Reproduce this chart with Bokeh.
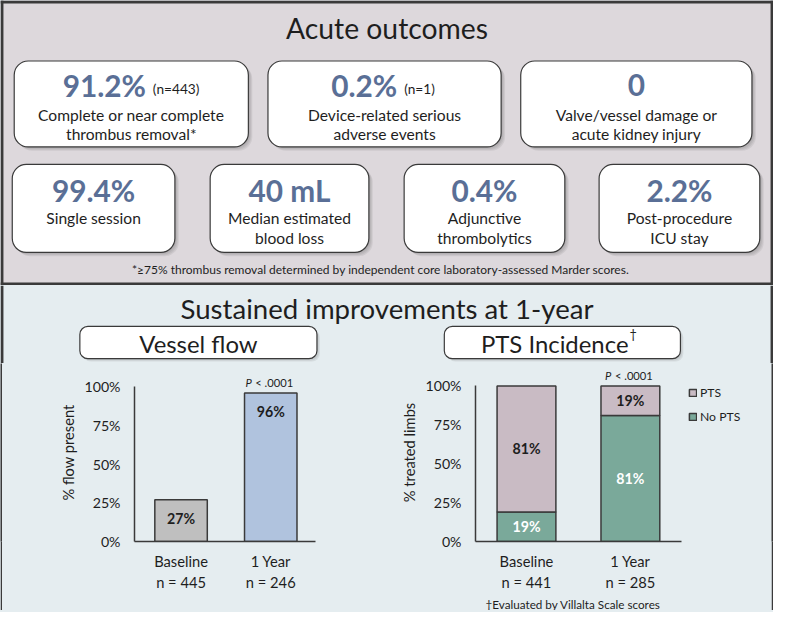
from bokeh.plotting import figure
from bokeh.layouts import column, row
from bokeh.models import (Range1d, FixedTicker, ColumnDataSource, Legend, LegendItem,
                          PrintfTickFormatter, Title)
from bokeh.core.properties import value
from bokeh.embed import file_html
from bokeh.resources import INLINE

# ---------------- data ----------------
top_values = ["91.2%", "0.2%", "0"]
top_notes = ["(n=443)", "(n=1)", ""]
top_desc = [["Complete or near complete", "thrombus removal*"],
            ["Device-related serious", "adverse events"],
            ["Valve/vessel damage or", "acute kidney injury"]]
mid_values = ["99.4%", "40 mL", "0.4%", "2.2%"]
mid_desc = [["Single session"],
            ["Median estimated", "blood loss"],
            ["Adjunctive", "thrombolytics"],
            ["Post-procedure", "ICU stay"]]
footnote_top = "*\u226575% thrombus removal determined by independent core laboratory-assessed Marder scores."

flow_cats = ["Baseline", "1 Year"]
flow_n = [445, 246]
flow_pct = [27, 96]

pts_cats = ["Baseline", "1 Year"]
pts_n = [441, 285]
pts_no = [19, 81]
pts_yes = [81, 19]

y_ticks = [0, 25, 50, 75, 100]
p_text = "< .0001"
footnote_bottom = "\u2020Evaluated by Villalta Scale scores"

# ---------------- style ----------------
FONT = "Lato"
DARK = "#1e1e1e"
EDGE = "#3a3a3a"
TOP_BG = "#DDD8DC"
BOT_BG = "#E5EDF0"
NUM_C = "#5A6F96"
GREY_BAR = "#BFBFBF"
BLUE_BAR = "#B0C3DE"
PTS_C = "#C9BBC4"
NOPTS_C = "#7AA99A"


def fs(px):
    return f"{px * 0.977:.1f}px"


def canvas(w, h, y0, y1, bg):
    p = figure(width=w, height=h, x_range=Range1d(0, 789), y_range=Range1d(y1, y0),
               toolbar_location=None, output_backend="svg", min_border=0,
               x_axis_type=None, y_axis_type=None, background_fill_color=bg,
               border_fill_color=bg, outline_line_color=None)
    return p


def txt(p, x, y, s, size, color=DARK, style="normal", align="center", baseline="middle",
        x_offset=0):
    p.text(x=[x], y=[y], text=[s], text_font=value(FONT), text_font_size=fs(size),
           text_color=color, text_font_style=style, text_align=align,
           text_baseline=baseline, x_offset=x_offset)


def box(p, l, r, t, b, radius, shadow=4):
    for d in range(1, shadow + 1):
        p.quad(left=[l + d], right=[r + d], top=[t + d], bottom=[b + d],
               fill_color="#555555", fill_alpha=0.10, line_color=None,
               border_radius=radius)
    p.quad(left=[l], right=[r], top=[t], bottom=[b], fill_color="white",
           line_color=EDGE, line_width=1.2, border_radius=radius)


# ---------------- top panel ----------------
top = canvas(773, 285, 0, 292, TOP_BG)
top.quad(left=[0, 0, 0, 786], right=[789, 789, 3, 789], top=[0, 289, 0, 0],
         bottom=[3, 292, 292, 292], fill_color=EDGE, line_color=None)
txt(top, 394.5, 28, "Acute outcomes", 29)

row1_l = [14, 273, 531]
row1_r = [253, 511, 767]
split_off = [15, 13, 0]
for i in range(3):
    l, r = row1_l[i], row1_r[i]
    box(top, l, r, 62, 150, 14)
    cx = (l + r) / 2
    if top_notes[i]:
        txt(top, cx + split_off[i], 87, top_values[i], 30.5, NUM_C, "bold", "right")
        txt(top, cx + split_off[i] + 7, 90, top_notes[i], 14, DARK, "normal", "left")
    else:
        txt(top, cx, 87, top_values[i], 30.5, NUM_C, "bold", "center")
    for j, line in enumerate(top_desc[i]):
        txt(top, cx, 117 + 20 * j, line, 16)

row2_l = [12, 214, 412, 611]
row2_r = [178, 376, 576, 775]
for i in range(4):
    l, r = row2_l[i], row2_r[i]
    box(top, l, r, 168, 258, 14)
    cx = (l + r) / 2
    txt(top, cx, 195, mid_values[i], 30.5, NUM_C, "bold", "center")
    for j, line in enumerate(mid_desc[i]):
        txt(top, cx, 223 + 20 * j, line, 16)

txt(top, 388, 276, footnote_top, 12.3)

# ---------------- bottom header ----------------
hdr = canvas(773, 78, 292, 372, BOT_BG)
hdr.quad(left=[0, 786], right=[3, 789], top=[292, 292], bottom=[372, 372],
         fill_color=EDGE, line_color=None)
txt(hdr, 394.5, 316, "Sustained improvements at 1-year", 28.3)
box(hdr, 81, 323, 334, 367, 8, 3)
box(hdr, 453, 694, 334, 367, 8, 3)
txt(hdr, 202, 351, "Vessel flow", 24.5)
txt(hdr, 641, 351, "PTS Incidence", 24.5, align="right")
txt(hdr, 642, 342, "\u2020", 13, align="left")


# ---------------- charts ----------------
def style_axes(p, ylabel, xlabels, xbounds):
    ya = p.yaxis[0]
    ya.ticker = FixedTicker(ticks=y_ticks)
    ya.formatter = PrintfTickFormatter(format="%d%%")
    ya.bounds = (0, 100)
    xa = p.xaxis[0]
    xa.ticker = FixedTicker(ticks=list(range(1, len(xlabels) + 1)))
    xa.major_label_overrides = {i + 1: s for i, s in enumerate(xlabels)}
    xa.bounds = xbounds
    for a in (xa, ya):
        a.axis_line_color = EDGE
        a.axis_line_width = 1.5
        a.major_tick_line_color = None
        a.minor_tick_line_color = None
        a.major_tick_out = 0
        a.major_tick_in = 0
        a.minor_tick_out = 0
        a.minor_tick_in = 0
        a.major_label_text_font = FONT
        a.major_label_text_color = DARK
        a.axis_label_text_font = FONT
        a.axis_label_text_font_style = "normal"
        a.axis_label_text_color = DARK
    ya.major_label_text_font_size = fs(14.5)
    ya.major_label_standoff = 14
    ya.axis_label = ylabel
    ya.axis_label_text_font_size = fs(15)
    ya.axis_label_standoff = 4
    xa.major_label_text_font_size = fs(15)
    xa.major_label_text_line_height = 1.2
    xa.major_label_standoff = 10
    p.xgrid.visible = False
    p.ygrid.visible = False


def chart(width, left_border, xr, yend):
    p = figure(width=width, height=247, x_range=Range1d(*xr), y_range=Range1d(0, yend),
               toolbar_location=None, output_backend="svg", min_border_left=left_border,
               min_border_right=0, min_border_top=0, min_border_bottom=69,
               background_fill_color=BOT_BG, border_fill_color=BOT_BG,
               outline_line_color=None)
    return p


def p_value(p, x, y):
    p.text(x=[x], y=[y], text=["P"], text_font=value(FONT),
           text_font_size=fs(11.5), text_font_style="italic", text_color=DARK,
           text_align="right", text_baseline="middle", x_offset=-19)
    p.text(x=[x], y=[y], text=[p_text], text_font=value(FONT),
           text_font_size=fs(11.5), text_color=DARK, text_align="left",
           text_baseline="middle", x_offset=-15.5)


# Vessel flow
pl = chart(382, 132, (0.481, 3.268), 115.1)
fx = [i + 1 for i in range(len(flow_cats))]
fsrc = ColumnDataSource(dict(x=fx, top=flow_pct, color=[GREY_BAR, BLUE_BAR],
                             lab=[f"{v}%" for v in flow_pct],
                             ly=[v - 12 for v in flow_pct]))
pl.vbar(x="x", top="top", width=0.585, source=fsrc, fill_color="color",
        line_color=EDGE, line_width=1.5)
pl.text(x="x", y="ly", text="lab", source=fsrc, text_font=value(FONT),
        text_font_size=fs(14.5), text_font_style="bold", text_color=DARK,
        text_align="center", text_baseline="middle")
p_value(pl, fx[-1], flow_pct[-1] + 6.5)
style_axes(pl, "% flow present",
           [f"{c}\nn = {n}" for c, n in zip(flow_cats, flow_n)], (0.481, 2.503))

# PTS incidence
pr = chart(387, 91, (0.5094, 3.358), 114.4)
px_ = [i + 1 for i in range(len(pts_cats))]
psrc = ColumnDataSource(dict(x=px_, no=pts_no, yes=pts_yes))
rs = pr.vbar_stack(["no", "yes"], x="x", width=0.566, source=psrc,
                   fill_color=[NOPTS_C, PTS_C], line_color=EDGE, line_width=1.5)
lsrc = ColumnDataSource(dict(
    x=px_ + px_,
    y=[n / 2 for n in pts_no] + [n + y / 2 for n, y in zip(pts_no, pts_yes)],
    t=[f"{v}%" for v in pts_no] + [f"{v}%" for v in pts_yes],
    c=["white"] * len(pts_no) + [DARK] * len(pts_yes)))
pr.text(x="x", y="y", text="t", text_color="c", source=lsrc, text_font=value(FONT),
        text_font_size=fs(14.5), text_font_style="bold", text_align="center",
        text_baseline="middle")
tot = pts_no[-1] + pts_yes[-1]
p_value(pr, px_[-1], tot + 6.8)
style_axes(pr, "% treated limbs",
           [f"{c}\nn = {n}" for c, n in zip(pts_cats, pts_n)], (0.5094, 2.4906))
pr.add_layout(Title(text=footnote_bottom, align="left", offset=10, standoff=0,
                    text_font=FONT, text_font_size=fs(12), text_font_style="normal",
                    text_color=DARK), "below")

for lab, r, ypos in (("PTS", rs[1], 139), ("No PTS", rs[0], 115)):
    lg = Legend(items=[LegendItem(label=lab, renderers=[r])], location=(213, ypos),
                glyph_width=9, glyph_height=9, label_height=20, label_standoff=3,
                padding=0, margin=0, spacing=0, background_fill_alpha=0,
                border_line_color=None, label_text_font=FONT,
                label_text_font_size=fs(12.5), label_text_color=DARK)
    pr.add_layout(lg)


def strip(w, h):
    return figure(width=w, height=h, toolbar_location=None, output_backend="svg",
                  min_border=0, x_axis_type=None, y_axis_type=None,
                  background_fill_color=EDGE, border_fill_color=EDGE,
                  outline_line_color=None)


chart_row = row(strip(2, 247), pl, pr, strip(2, 247), spacing=0,
                styles={"background-color": BOT_BG})
layout = column(top, hdr, chart_row, strip(773, 2), spacing=0,
                styles={"background-color": BOT_BG})
open("out.html", "w").write(file_html(layout, INLINE))
